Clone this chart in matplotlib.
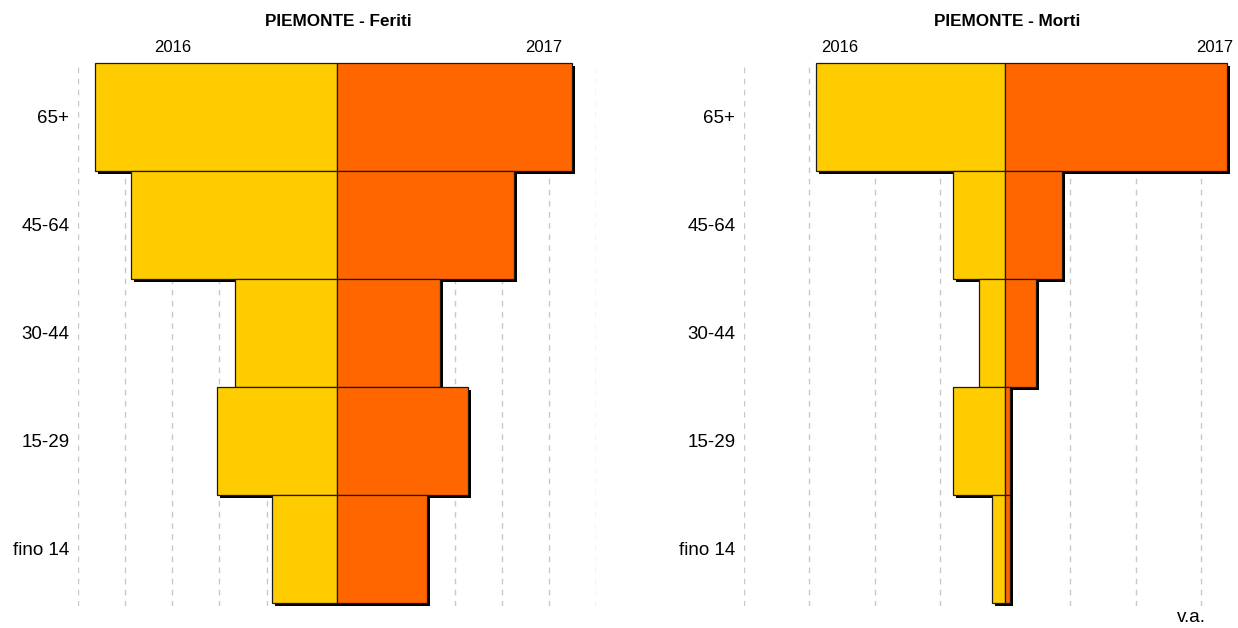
import matplotlib
matplotlib.use('Agg')
from matplotlib import pyplot as plt
from matplotlib import transforms
import numpy as np

plt.rcParams['font.family'] = ['Liberation Sans', 'DejaVu Sans']

# age classes, top to bottom
classi = ['65+', '45-64', '30-44', '15-29', 'fino 14']

# Feriti (valori assoluti)
feriti_2016 = [5150, 4370, 2160, 2555, 1380]
feriti_2017 = [5000, 3750, 2195, 2775, 1905]

# Morti (valori assoluti)
morti_2016 = [145, 40, 20, 40, 10]
morti_2017 = [170, 44, 24, 4, 4]

col_2016 = '#FFCC00'
col_2017 = '#FF6600'

W, H = 1238, 628
fig = plt.figure(figsize=(W / 100, H / 100), dpi=100)


def add_panel(x0, x1, y0, y1):
    return fig.add_axes([x0 / W, 1 - y1 / H, (x1 - x0) / W, (y1 - y0) / H])


def piramide(ax, left, right, xlim, grid, title, title_x, year_x):
    n = len(classi)
    y = np.arange(n)[::-1]
    left = np.array(left)
    right = np.array(right)

    # drop shadow under every bar
    shadow = transforms.offset_copy(ax.transData, fig=fig, x=3, y=-3, units='dots')
    for vals, start in [(left, -left), (right, np.zeros(n))]:
        ax.barh(y, vals, left=start, height=1.0, color='black', linewidth=0,
                transform=shadow, zorder=2, clip_on=False)

    ax.barh(y, left, left=-left, height=1.0, color=col_2016, edgecolor='#1a1a1a',
            linewidth=0.9, zorder=3, clip_on=False)
    ax.barh(y, right, height=1.0, color=col_2017, edgecolor='#1a1a1a',
            linewidth=0.9, zorder=3, clip_on=False)

    ax.set_xlim(*xlim)
    ax.set_ylim(-0.53, n - 0.5)
    ax.set_xticks(grid)
    ax.set_xticklabels([])
    ax.set_yticks(y)
    ax.set_yticklabels(classi, fontsize=13.5)
    ax.tick_params(length=0, pad=6.5)
    ax.grid(axis='x', color='#c8c8c8', linestyle=(0, (4, 4)), linewidth=1.0)
    ax.set_axisbelow(True)
    for s in ax.spines.values():
        s.set_visible(False)

    fig.text(title_x / W, 1 - 21 / H, title, ha='center', va='center',
             fontsize=12.3, fontweight='bold')
    fig.text(year_x[0] / W, 1 - 47 / H, '2016', ha='center', va='center', fontsize=12)
    fig.text(year_x[1] / W, 1 - 47 / H, '2017', ha='center', va='center', fontsize=12)


ax1 = add_panel(78.3, 596.0, 63, 606)
piramide(ax1, feriti_2016, feriti_2017, (-5500, 5500),
         np.arange(-5500, 5501, 1000), 'PIEMONTE - Feriti', 338, (173, 544))

ax2 = add_panel(744.3, 1233.3, 63, 606)
piramide(ax2, morti_2016, morti_2017, (-200, 175),
         np.arange(-200, 151, 50), 'PIEMONTE - Morti', 1007, (840, 1215))

fig.text(1191 / W, 1 - 618 / H, 'v.a.', ha='center', va='center', fontsize=13.5)

plt.savefig('out.png', dpi=100)
